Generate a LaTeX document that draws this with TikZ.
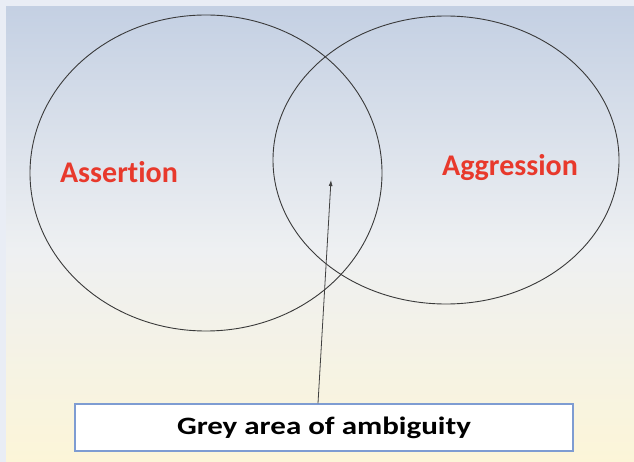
\documentclass[tikz,border=0pt]{standalone}
\usepackage{fontspec}
\setmainfont[Ligatures={NoCommon,NoRequired,NoContextual}]{Carlito}
\usetikzlibrary{arrows.meta}
\definecolor{frame}{HTML}{E9EDF5}
\definecolor{topc}{HTML}{C4D0E3}
\definecolor{midc}{HTML}{EEF0F2}
\definecolor{botc}{HTML}{FCF5D8}
\definecolor{redtxt}{HTML}{E8392C}
\definecolor{boxline}{HTML}{7E9CD2}
\definecolor{ringc}{HTML}{3A3A3A}
\tikzset{
  ring/.style={draw=ringc, line width=0.9pt},
  label/.style={text=redtxt, font=\bfseries\fontsize{30}{32}\selectfont},
  callout/.style={draw=boxline, line width=1.5pt, fill=white, minimum width=498pt, minimum height=47pt, inner sep=0pt, font=\bfseries\fontsize{25}{28}\selectfont},
  pointer/.style={draw=black!75, line width=0.8pt, -{Latex[length=6pt,width=4pt]}}
}
\begin{document}
\begin{tikzpicture}[x=1pt,y=-1pt]
\useasboundingbox (0,0) rectangle (634,462);
\fill[frame] (0,0) rectangle (634,462);
\shade[top color=topc, bottom color=midc] (6,7) rectangle (634,250);
\shade[top color=midc, bottom color=botc] (6,250) rectangle (634,462.5);
\draw[ring] (206,173) ellipse [x radius=176, y radius=158];
\draw[ring] (446,160) ellipse [x radius=173, y radius=144];
\node[label] (assert) at (119,172) {Assertion};
\node[label] (aggr) at (510,168) {Aggression};
\node[callout] (grey) at (324,427.5) {\scalebox{1.24}[1]{Grey area of ambiguity}};
\coordinate (tip) at (331,180);
\draw[pointer] (grey.north -| 318,0) -- (tip);
\end{tikzpicture}
\end{document}
